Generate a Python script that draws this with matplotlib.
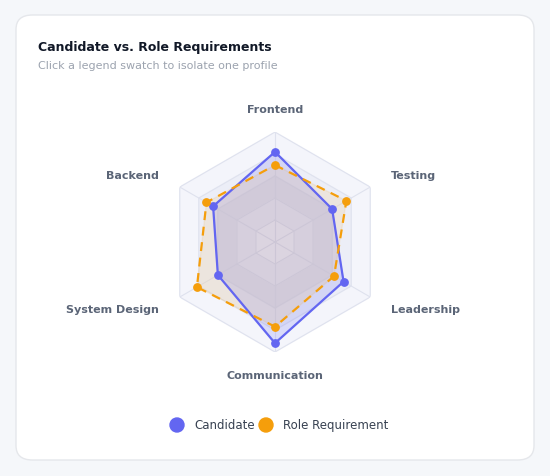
import numpy as np
import matplotlib.pyplot as plt
from matplotlib.patches import FancyBboxPatch, Ellipse

categories = ["Frontend", "Testing", "Leadership", "Communication", "System Design", "Backend"]
candidate = [82, 60, 72, 92, 60, 65]
role = [70, 75, 62, 77, 82, 72]
series_names = ["Candidate", "Role Requirement"]
colors = ["#6366f1", "#f59e0b"]

fig = plt.figure(figsize=(5.5, 4.77), dpi=100)
fig.patch.set_facecolor("#f5f7fa")

card = FancyBboxPatch((16 / 550, 16 / 477), 518 / 550, 445 / 477,
                      boxstyle="round,pad=0,rounding_size=0.03",
                      transform=fig.transFigure, facecolor="white",
                      edgecolor="#e5e7eb", linewidth=1, zorder=-5)
fig.patches.append(card)

fig.text(38 / 550, 1 - 47 / 477, "Candidate vs. Role Requirements", fontsize=9,
         fontweight="bold", color="#111827", va="center")
fig.text(38 / 550, 1 - 66 / 477, "Click a legend swatch to isolate one profile",
         fontsize=8, color="#9ca3af", va="center")

ax = fig.add_axes([0.3, 0.26, 0.4, 0.461], projection="polar")
ax.set_theta_offset(np.pi / 2)
ax.set_theta_direction(-1)
ax.set_ylim(0, 100)
ax.axis("off")

n = len(categories)
theta = np.linspace(0, 2 * np.pi, n, endpoint=False)
tc = np.append(theta, theta[0])

# hexagonal grid bands
band_colors = ["#f4f5fb", "#eceef7", "#e5e7f2", "#eceef7", "#f4f5fb"]
for i, r in enumerate([100, 80, 60, 40, 20]):
    ax.fill(tc, [r] * (n + 1), color=band_colors[i], zorder=0)
    ax.plot(tc, [r] * (n + 1), color="#dfe2ee", lw=0.8, zorder=1)
for t in theta:
    ax.plot([t, t], [0, 100], color="#dfe2ee", lw=0.8, zorder=1)

c_vals = np.append(candidate, candidate[0])
r_vals = np.append(role, role[0])
ax.fill(tc, c_vals, color=colors[0], alpha=0.18, zorder=2)
ax.plot(tc, c_vals, color=colors[0], lw=1.6, zorder=3)
ax.scatter(theta, candidate, color=colors[0], s=28, zorder=5)
ax.fill(tc, r_vals, color=colors[1], alpha=0.1, zorder=2)
ax.plot(tc, r_vals, color=colors[1], lw=1.6, ls=(0, (4, 3)), zorder=4)
ax.scatter(theta, role, color=colors[1], s=28, zorder=5)

for t, lab in zip(theta, categories):
    ha = "center"
    if np.isclose(np.sin(t), 0, atol=0.1):
        rr = 121
    else:
        rr = 122
        ha = "left" if np.sin(t) > 0 else "right"
    ax.text(t, rr, lab, ha=ha, va="center", fontsize=8, fontweight="bold",
            color="#5b6577")

# legend
for x, name, col in [(177, series_names[0], colors[0]), (266, series_names[1], colors[1])]:
    fig.patches.append(Ellipse((x / 550, 1 - 426 / 477), 14 / 550, 14 / 477, color=col,
                               transform=fig.transFigure))
    fig.text((x + 17) / 550, 1 - 426 / 477, name, fontsize=8.5, color="#374151", va="center")

fig.savefig("out.png", dpi=100)
